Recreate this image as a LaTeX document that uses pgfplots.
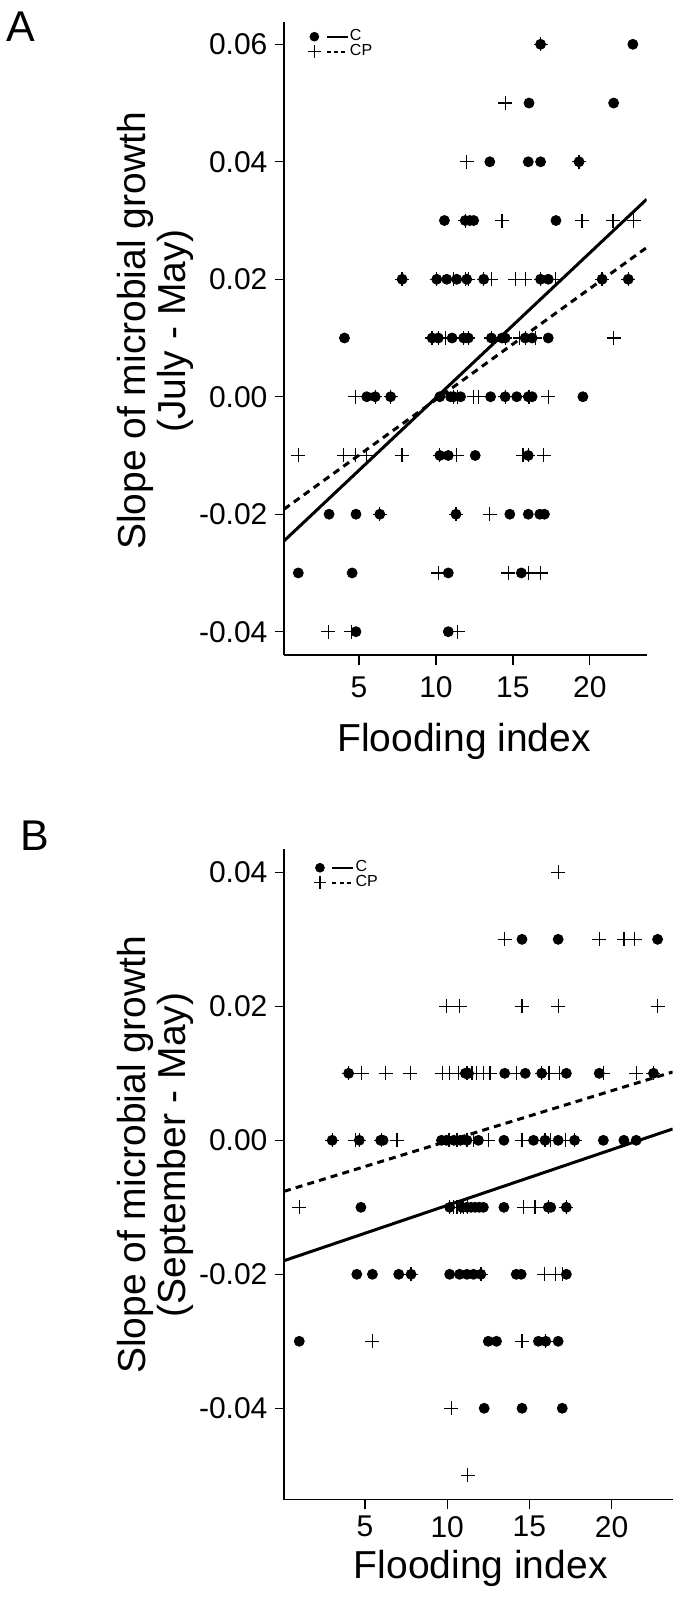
\documentclass[border=0pt]{standalone}
\usepackage{pgfplots}
\pgfplotsset{compat=1.18}
\usepackage{fontspec}
\setmainfont{Liberation Sans}

\pgfplotsset{
  panel/.style={
    scale only axis,
    axis lines=left,
    axis line style={-, line width=0.65pt},
    tick align=outside,
    major tick length=4.75pt,
    every tick/.style={black, line width=0.65pt},
    scaled ticks=false,
    scaled y ticks=false,
    xtick={5,10,15,20}, xticklabels={5,10,15,20},
    ticklabel style={font=\fontsize{15}{18}\selectfont},
    label style={font=\fontsize{19.5}{20}\selectfont},
    ylabel style={align=center},
    xlabel={Flooding index},
    clip mode=individual,
    legend cell align=left,
    legend style={draw=none, fill=none, anchor=north west,
      font=\fontsize{8}{8.5}\selectfont, inner sep=0pt, row sep=-0.8pt,
      nodes={inner sep=0.6pt}},
  },
  cmark/.style={only marks, mark=*, mark size=2.5pt, black},
  cpmark/.style={only marks, mark=+, mark size=3.5pt, black, mark options={line width=0.65pt}},
  cline/.style={no marks, black, line width=1.5pt},
  cpline/.style={no marks, black, line width=1.5pt, dash pattern=on 3.5pt off 2.6pt},
  legC/.style={legend image code/.code={
      \draw[mark=*, mark size=2.2pt, black] plot coordinates {(0pt,0pt)};
      \draw[black, line width=1pt] (6.2pt,0pt) -- (16.7pt,0pt);}},
  legCP/.style={legend image code/.code={
      \draw[mark=+, mark size=3.2pt, black, line width=0.6pt] plot coordinates {(0pt,0pt)};
      \draw[black, line width=1pt, dash pattern=on 2pt off 1.6pt] (6.2pt,0pt) -- (16.7pt,0pt);}},
}

\begin{document}
\begin{tikzpicture}
\useasboundingbox (0,0) rectangle (340pt,-799pt);

\node[anchor=base west, font=\fontsize{21.5}{22}\selectfont, inner sep=0pt] at (3pt,-21pt) {A};
\node[anchor=base west, font=\fontsize{21.5}{22}\selectfont, inner sep=0pt] at (10pt,-425pt) {B};

% ---------------- Panel A ----------------
\begin{axis}[panel,
  at={(142pt,-327.5pt)}, anchor=south west,
  width=181.35pt, height=316.65pt,
  xmin=0.12, xmax=23.7, ymin=-0.04397, ymax=0.06385,
  ytick={-0.04,-0.02,0,0.02,0.04,0.06},
  yticklabels={-0.04,-0.02,0.00,0.02,0.04,0.06},
  xticklabel style={yshift=-2.5pt},
  ylabel={Slope of microbial growth\\(July - May)},
  ylabel style={at={(axis description cs:-0.3557,0.5116)}, anchor=center},
  xlabel style={at={(axis description cs:0.4963,-0.1527)}, anchor=base},
  legend style={at={(axis description cs:0.065,0.99)}},
]
\addlegendimage{legC}
\addlegendentry{C}
\addlegendimage{legCP}
\addlegendentry{CP}

% C (dots)
\addplot[cmark, forget plot] coordinates {
 (16.8,0.06) (22.8,0.06)
 (16.05,0.05) (21.55,0.05)
 (13.5,0.04) (16.0,0.04) (16.8,0.04) (19.3,0.04)
 (10.55,0.03) (11.9,0.03) (12.2,0.03) (12.45,0.03) (17.8,0.03)
 (7.8,0.02) (10.05,0.02) (10.7,0.02) (11.35,0.02) (12.0,0.02) (13.1,0.02) (16.8,0.02) (17.3,0.02) (20.8,0.02) (22.5,0.02)
 (4.05,0.01) (9.75,0.01) (10.15,0.01) (11.05,0.01) (11.8,0.01) (12.1,0.01) (13.6,0.01) (14.3,0.01) (14.5,0.01) (15.8,0.01) (16.25,0.01) (17.3,0.01)
 (5.5,0) (6.05,0) (7.05,0) (10.25,0) (10.95,0) (11.15,0) (11.6,0) (13.55,0) (14.5,0) (15.25,0) (16.0,0) (16.25,0) (19.55,0)
 (10.25,-0.01) (10.8,-0.01) (12.55,-0.01) (16.0,-0.01)
 (3.05,-0.02) (4.8,-0.02) (6.35,-0.02) (11.3,-0.02) (14.8,-0.02) (16.0,-0.02) (16.75,-0.02) (17.05,-0.02)
 (1.05,-0.03) (4.55,-0.03) (10.8,-0.03) (15.55,-0.03)
 (4.8,-0.04) (10.8,-0.04)
};
% CP (plus)
\addplot[cpmark, forget plot] coordinates {
 (16.8,0.06)
 (14.5,0.05)
 (12.0,0.04) (19.3,0.04)
 (11.9,0.03) (14.3,0.03) (19.5,0.03) (21.5,0.03) (22.85,0.03)
 (7.8,0.02) (10.05,0.02) (11.15,0.02) (11.9,0.02) (12.1,0.02) (13.1,0.02) (13.6,0.02) (15.15,0.02) (15.8,0.02) (16.8,0.02) (17.75,0.02) (20.8,0.02) (22.5,0.02)
 (9.75,0.01) (10.15,0.01) (10.6,0.01) (11.8,0.01) (12.1,0.01) (13.6,0.01) (14.5,0.01) (15.45,0.01) (15.8,0.01) (16.45,0.01) (21.55,0.01)
 (4.75,0) (6.05,0) (7.05,0) (11.15,0) (11.4,0) (12.45,0) (12.75,0) (14.5,0) (16.0,0) (16.1,0) (17.3,0)
 (1.05,-0.01) (4.0,-0.01) (4.75,-0.01) (5.5,-0.01) (7.8,-0.01) (10.25,-0.01) (11.35,-0.01) (15.65,-0.01) (16.0,-0.01) (17.0,-0.01)
 (6.35,-0.02) (11.3,-0.02) (13.5,-0.02)
 (10.15,-0.03) (14.7,-0.03) (16.0,-0.03) (16.8,-0.03)
 (3.0,-0.04) (4.5,-0.04) (11.4,-0.04)
};
\addplot[cline, forget plot] coordinates {(0.12,-0.02455) (23.7,0.03362)};
\addplot[cpline, forget plot] coordinates {(0.12,-0.01915) (23.7,0.0254)};
\end{axis}

% ---------------- Panel B ----------------
\begin{axis}[panel,
  at={(142pt,-749.85pt)}, anchor=south west,
  width=194.35pt, height=325.2pt,
  xmin=0.07, xmax=23.72, ymin=-0.05365, ymax=0.04344,
  ytick={-0.04,-0.02,0,0.02,0.04},
  yticklabels={-0.04,-0.02,0.00,0.02,0.04},
  ylabel={Slope of microbial growth\\(September - May)},
  ylabel style={at={(axis description cs:-0.3319,0.530)}, anchor=center},
  xlabel style={at={(axis description cs:0.5063,-0.1204)}, anchor=base},
  legend style={at={(axis description cs:0.075,0.985)}},
]
\addlegendimage{legC}
\addlegendentry{C}
\addlegendimage{legCP}
\addlegendentry{CP}

% C (dots)
\addplot[cmark, forget plot] coordinates {
 (14.55,0.03) (16.75,0.03) (22.8,0.03)
 (4.0,0.01) (11.1,0.01) (11.3,0.01) (13.5,0.01) (14.75,0.01) (15.75,0.01) (17.25,0.01) (19.25,0.01) (22.55,0.01)
 (3.0,0) (4.65,0) (5.95,0) (6.1,0) (9.65,0) (9.95,0) (10.4,0) (10.8,0) (11.2,0) (11.9,0) (13.45,0) (15.25,0) (15.95,0) (16.75,0) (17.75,0) (19.5,0) (20.75,0) (21.5,0)
 (4.75,-0.01) (10.15,-0.01) (10.9,-0.01) (11.2,-0.01) (11.45,-0.01) (11.7,-0.01) (11.95,-0.01) (12.2,-0.01) (13.45,-0.01) (16.15,-0.01) (16.3,-0.01) (17.25,-0.01)
 (4.5,-0.02) (5.45,-0.02) (7.05,-0.02) (7.8,-0.02) (10.15,-0.02) (10.75,-0.02) (11.2,-0.02) (11.6,-0.02) (12.05,-0.02) (14.2,-0.02) (14.5,-0.02) (17.25,-0.02)
 (1.0,-0.03) (12.5,-0.03) (13.0,-0.03) (15.55,-0.03) (16.0,-0.03) (16.75,-0.03)
 (12.25,-0.04) (14.55,-0.04) (17.0,-0.04)
};
% CP (plus)
\addplot[cpmark, forget plot] coordinates {
 (16.75,0.04)
 (13.5,0.03) (19.25,0.03) (20.75,0.03) (21.4,0.03)
 (9.95,0.02) (10.75,0.02) (14.55,0.02) (16.75,0.02) (22.8,0.02)
 (4.0,0.01) (4.8,0.01) (6.25,0.01) (7.75,0.01) (9.7,0.01) (10.15,0.01) (10.7,0.01) (11.2,0.01) (11.5,0.01) (11.8,0.01) (12.2,0.01) (12.6,0.01) (14.2,0.01) (15.75,0.01) (16.2,0.01) (16.85,0.01) (19.5,0.01) (21.5,0.01) (22.55,0.01)
 (3.0,0) (4.4,0) (4.65,0) (6.0,0) (6.95,0) (10.1,0) (10.6,0) (11.2,0) (11.6,0) (12.5,0) (14.55,0) (15.95,0) (16.3,0) (17.2,0) (17.75,0)
 (1.0,-0.01) (10.15,-0.01) (10.4,-0.01) (10.6,-0.01) (10.8,-0.01) (11.0,-0.01) (11.25,-0.01) (14.65,-0.01) (15.35,-0.01) (16.15,-0.01) (17.25,-0.01)
 (7.8,-0.02) (12.05,-0.02) (15.9,-0.02) (16.6,-0.02) (17.0,-0.02)
 (5.45,-0.03) (14.55,-0.03) (16.0,-0.03)
 (10.25,-0.04)
 (11.25,-0.05)
};
\addplot[cline, forget plot] coordinates {(0.07,-0.01797) (23.72,0.0017)};
\addplot[cpline, forget plot] coordinates {(0.07,-0.00762) (23.72,0.0102)};
\end{axis}
\end{tikzpicture}
\end{document}
